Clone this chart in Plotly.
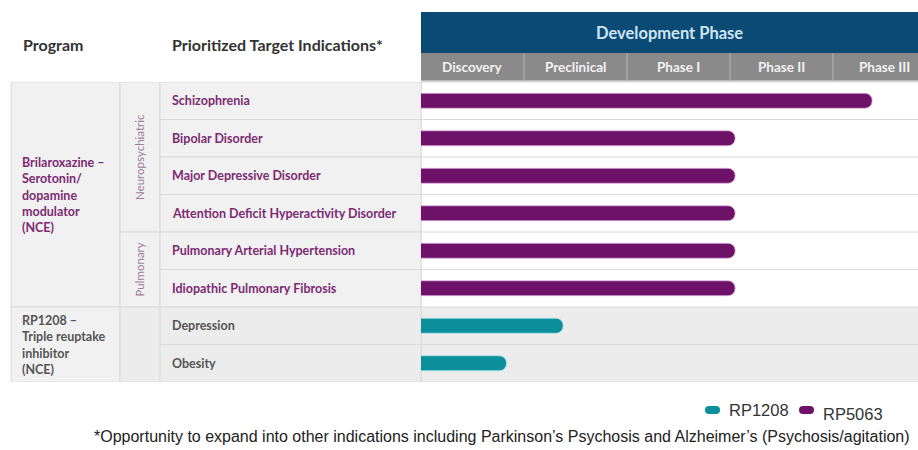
import plotly.graph_objects as go

# ---------------- data ----------------
phases = ["Discovery", "Preclinical", "Phase I", "Phase II", "Phase III"]
indications = [
    "Schizophrenia",
    "Bipolar Disorder",
    "Major Depressive Disorder",
    "Attention Deficit Hyperactivity Disorder",
    "Pulmonary Arterial Hypertension",
    "Idiopathic Pulmonary Fibrosis",
    "Depression",
    "Obesity",
]
# progress expressed in phase units (1 unit = one phase column)
rp5063_ind = indications[:6]
rp5063_prog = [4.38, 3.05, 3.05, 3.05, 3.05, 3.05]
rp1208_ind = indications[6:]
rp1208_prog = [1.38, 0.83]
series_names = ["RP1208", "RP5063"]

programs = [
    ("Brilaroxazine –<br>Serotonin/<br>dopamine<br>modulator<br>(NCE)", 0, 5),
    ("RP1208 –<br>Triple reuptake<br>inhibitor<br>(NCE)", 6, 7),
]
categories = [("Neuropsychiatric", 0, 3), ("Pulmonary", 4, 5)]
footnote = ("*Opportunity to expand into other indications including Parkinson’s "
            "Psychosis and Alzheimer’s (Psychosis/agitation)")

# ---------------- geometry helpers (page pixel -> paper) ----------------
W, H = 918, 450
def px(x):
    return x / W
def py(y):
    return 1 - y / H

TOP, BOT = 82, 382
BAR_X0 = 421
COLW = 103
PURPLE = "#6e1169"
TEAL = "#0b8f9b"
TXT_PURPLE = "#7c2a73"
TXT_GRAY = "#555555"
CELL = "#f1f1f1"
GRID = "#dadada"
FONT = "Lato"

fig = go.Figure()
BASE = -0.12
fig.add_trace(go.Bar(
    y=rp5063_ind, x=[v - BASE for v in rp5063_prog], base=BASE, orientation="h",
    marker=dict(color=PURPLE, line=dict(color="#e3b5df", width=0.8)),
    width=0.4, name=series_names[1], showlegend=False, hoverinfo="skip"))
fig.add_trace(go.Bar(
    y=rp1208_ind, x=[v - BASE for v in rp1208_prog], base=BASE, orientation="h",
    marker=dict(color=TEAL, line=dict(color="#a9e6ec", width=0.8)),
    width=0.4, name=series_names[0], showlegend=False, hoverinfo="skip"))

shapes = []
annotations = []
n = len(indications)

def ann(x, y, text, size, color, xanchor="left", xref="paper", yref="paper",
        family=FONT, bold=True, angle=0, align="left"):
    annotations.append(dict(
        xref=xref, yref=yref, x=x, y=y, text=text, showarrow=False,
        xanchor=xanchor, yanchor="middle", align=align, textangle=angle,
        font=dict(family=family, size=size, color=color,
                  weight="bold" if bold else "normal")))

# RP1208 bar-area gray background
shapes.append(dict(type="rect", xref="paper", yref="y", x0=px(BAR_X0), x1=1,
                   y0=5.5, y1=7.5, fillcolor="#ececec", line_width=0, layer="below"))
# horizontal grid lines across bar area
for i in range(n + 1):
    shapes.append(dict(type="line", xref="paper", yref="y", x0=px(BAR_X0), x1=1,
                       y0=i - 0.5, y1=i - 0.5, line=dict(color=GRID, width=1), layer="below"))
# vertical line at left of bar area
shapes.append(dict(type="line", xref="paper", yref="y", x0=px(BAR_X0), x1=px(BAR_X0),
                   y0=-0.5, y1=n - 0.5, line=dict(color="#d0d0d0", width=1), layer="below"))

# left table cells
for label, a, b in programs:
    shapes.append(dict(type="rect", xref="paper", yref="y", x0=px(11), x1=px(120),
                       y0=a - 0.5, y1=b + 0.5, fillcolor=CELL,
                       line=dict(color=GRID, width=1), layer="below"))
    ann(px(20), (a + b) / 2, label, 12.5, TXT_PURPLE if a == 0 else TXT_GRAY, yref="y")
for label, a, b in categories:
    shapes.append(dict(type="rect", xref="paper", yref="y", x0=px(120), x1=px(160),
                       y0=a - 0.5, y1=b + 0.5, fillcolor=CELL,
                       line=dict(color=GRID, width=1), layer="below"))
    ann(px(139), (a + b) / 2, label, 11.5, "#9c7c99", xanchor="center", yref="y",
        bold=False, angle=-90, align="center")
shapes.append(dict(type="rect", xref="paper", yref="y", x0=px(120), x1=px(160),
                   y0=5.5, y1=7.5, fillcolor="#ececec",
                   line=dict(color=GRID, width=1), layer="below"))
for i, name in enumerate(indications):
    fill = CELL if i < 6 else "#ececec"
    shapes.append(dict(type="rect", xref="paper", yref="y", x0=px(160), x1=px(BAR_X0),
                       y0=i - 0.5, y1=i + 0.5, fillcolor=fill,
                       line=dict(color=GRID, width=1), layer="below"))
    ann(px(170), name, name, 12.5, TXT_PURPLE if i < 6 else TXT_GRAY, yref="y")

# header
shapes.append(dict(type="rect", xref="paper", yref="paper", x0=px(BAR_X0), x1=1,
                   y0=py(53), y1=py(12), fillcolor="#0c4a76", line_width=0))
shapes.append(dict(type="rect", xref="paper", yref="paper", x0=px(BAR_X0), x1=1,
                   y0=py(81), y1=py(53), fillcolor="#8a8a8a", line_width=0))
shapes.append(dict(type="line", xref="paper", yref="paper", x0=px(BAR_X0), x1=1,
                   y0=py(81), y1=py(81), line=dict(color="#c8c8c8", width=1.5)))
for k in range(1, len(phases)):
    shapes.append(dict(type="line", xref="x", yref="paper", x0=k, x1=k,
                       y0=py(81), y1=py(53), line=dict(color="#b5b5b5", width=1)))
ann(px((BAR_X0 + W) / 2), py(33), "Development Phase", 16.5, "#cfe5f3", xanchor="center")
for k, ph in enumerate(phases):
    ann(k + 0.5, py(67), ph, 13.5, "#f2f2f2", xanchor="center", xref="x")
ann(px(21), py(45), "Program", 16, "#333333")
ann(px(170), py(45), "Prioritized Target Indications*", 16, "#333333")

# legend (custom pills)
legend_items = [(series_names[0], TEAL, 705, 410), (series_names[1], PURPLE, 799, 410)]
for name, col, lx, ly in legend_items:
    shapes.append(dict(type="path", xref="paper", yref="paper",
                       path=(f"M {px(lx+4)} {py(ly-4)} L {px(lx+11)} {py(ly-4)} "
                             f"Q {px(lx+15)} {py(ly-4)} {px(lx+15)} {py(ly)} "
                             f"Q {px(lx+15)} {py(ly+4)} {px(lx+11)} {py(ly+4)} "
                             f"L {px(lx+4)} {py(ly+4)} "
                             f"Q {px(lx)} {py(ly+4)} {px(lx)} {py(ly)} "
                             f"Q {px(lx)} {py(ly-4)} {px(lx+4)} {py(ly-4)} Z"),
                       fillcolor=col, line_width=0))
ann(px(727), py(410), series_names[0], 16.5, "#333333", family="Liberation Sans", bold=False)
ann(px(821), py(414), series_names[1], 16.5, "#333333", family="Liberation Sans", bold=False)
ann(px(502), py(436), footnote, 16, "#222222", xanchor="center",
    family="Liberation Sans", bold=False, align="center")

fig.update_layout(
    width=W, height=H, margin=dict(l=0, r=0, t=0, b=0),
    paper_bgcolor="white", plot_bgcolor="rgba(0,0,0,0)",
    barmode="overlay", barcornerradius=7,
    xaxis=dict(domain=[px(BAR_X0), 1], range=[0, (W - BAR_X0) / COLW],
               visible=False, fixedrange=True),
    yaxis=dict(domain=[py(BOT), py(TOP)], type="category", categoryorder="array",
               categoryarray=indications, range=[n - 0.5, -0.5], visible=False,
               fixedrange=True),
    shapes=shapes, annotations=annotations, showlegend=False,
)
# remove the browser's default 8px body margin so the figure fills the window
fig.write_html("out.html", config={"displayModeBar": False},
               post_script="document.body.style.margin='0px';")
